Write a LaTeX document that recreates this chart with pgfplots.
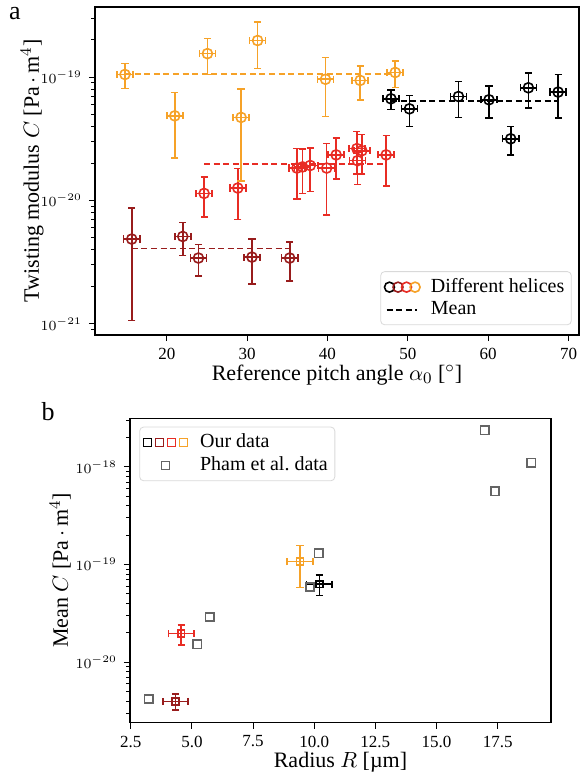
\documentclass[border=0pt]{standalone}
\usepackage{pgfplots}
\pgfplotsset{compat=1.18}
\usepackage{fontspec}
\setmainfont{Liberation Serif}

\definecolor{cdred}{RGB}{152,28,28}
\definecolor{cred}{RGB}{232,44,36}
\definecolor{corange}{RGB}{246,162,40}
\definecolor{cgray}{RGB}{100,100,100}

% panel a: pitch angle, C, x error, y error
\pgfplotstableread{
x y ex ey
47.9 6.67e-20 1.0 1.2e-20
50.2 5.53e-20 1.0 1.55e-20
56.3 6.96e-20 1.0 2.27e-20
60.1 6.55e-20 1.0 1.9e-20
62.8 3.16e-20 1.0 0.82e-20
65.0 8.19e-20 1.0 2.6e-20
68.7 7.56e-20 1.0 2.9e-20
}\blackA
\pgfplotstableread{
x y ex ey
15.64 4.86e-21 1.0 3.8e-21
21.99 5.1e-21 1.0 1.52e-21
23.94 3.41e-21 1.0 0.98e-21
30.6 3.47e-21 1.0 1.38e-21
35.3 3.41e-21 1.0 1.19e-21
}\dredA
\pgfplotstableread{
x y ex ey
24.65 1.14e-20 1.0 4.1e-21
28.84 1.26e-20 1.0 5.6e-21
36.2 1.83e-20 1.0 8.0e-21
36.9 1.87e-20 1.0 7.3e-21
37.85 1.92e-20 1.0 7.4e-21
39.9 1.83e-20 1.0 1.07e-20
41.08 2.34e-20 1.0 8.5e-21
43.66 2.63e-20 1.0 1.0e-20
44.28 2.53e-20 1.0 9.0e-21
43.74 2.1e-20 1.0 7.5e-21
47.3 2.34e-20 1.0 1.03e-20
}\redA
\pgfplotstableread{
x y ex ey
14.8 1.05e-19 1.0 2.4e-20
25.06 1.55e-19 1.0 5.0e-20
31.3 1.98e-19 1.0 8.1e-20
21.0 4.85e-20 1.0 2.65e-20
29.25 4.71e-20 1.0 3.27e-20
39.75 9.6e-20 1.0 4.8e-20
44.07 9.4e-20 1.0 2.87e-20
48.43 1.09e-19 1.0 2.67e-20
}\orangeA

\tikzset{meanline/.style={line width=0.8pt, dash pattern=on 3pt off 1.8pt}}
\pgfplotsset{
  errpts/.style 2 args={only marks, mark=#1, mark size=#2, line width=0.8pt,
    error bars/.cd, x dir=both, x explicit, y dir=both, y explicit,
    error bar style={line width=0.8pt, solid},
    error mark options={rotate=90, line width=0.8pt, mark size=1.8pt, solid}},
  helixleg/.style={legend image code/.code={
    \draw[black, line width=0.8pt] (0.08cm,0cm) circle (2.5pt);
    \draw[cdred, line width=0.8pt] (0.23cm,0cm) circle (2.5pt);
    \draw[cred, line width=0.8pt] (0.38cm,0cm) circle (2.5pt);
    \draw[corange, line width=0.8pt] (0.53cm,0cm) circle (2.5pt);}},
  meanleg/.style={legend image code/.code={
    \draw[black, sharp corners, meanline] (0.03cm,0cm) -- (0.56cm,0cm);}},
  ourleg/.style={legend image code/.code={
    \draw[black, sharp corners, line width=0.8pt] (0cm,-2pt) rectangle ++(4pt,4pt);
    \draw[cdred, sharp corners, line width=0.8pt] (0.21cm,-2pt) rectangle ++(4pt,4pt);
    \draw[cred, sharp corners, line width=0.8pt] (0.42cm,-2pt) rectangle ++(4pt,4pt);
    \draw[corange, sharp corners, line width=0.8pt] (0.63cm,-2pt) rectangle ++(4pt,4pt);}},
  phamleg/.style={legend image code/.code={
    \draw[draw=none] (0cm,0cm) -- (0.77cm,0cm);
    \draw[cgray, sharp corners, line width=0.8pt] (0.315cm,-2pt) rectangle ++(4pt,4pt);}},
}

\begin{document}
\begin{tikzpicture}
\useasboundingbox (0,0) rectangle (293pt,388pt);

\begin{axis}[
  scale only axis, ymode=log, axis line style={line width=0.6pt},
  tick align=outside, xtick pos=left, ytick pos=left,
  major tick length=3pt, minor tick length=1.8pt,
  tick style={black, line width=0.5pt},
  xticklabel style={font=\fontsize{8.5}{10}\selectfont, /pgf/number format/assume math mode=true},
  yticklabel style={font=\fontsize{7.5}{9}\selectfont},
  label style={font=\fontsize{11}{13}\selectfont},
  clip=false,
  at={(47.5pt,220.5pt)}, anchor=south west, width=242pt, height=164pt,
  xmin=11.07, xmax=71.3, ymin=8.1e-22, ymax=3.7e-19,
  xtick={20,30,...,70},
  xlabel={Reference pitch angle $\alpha_0$ [$^\circ$]},
  ylabel={Twisting modulus $C$ [Pa$\,\cdot\,$m$^4$]},
  xlabel style={at={(axis description cs:0.5,-0.122)}, anchor=center},
  ylabel style={at={(axis description cs:-0.13,0.5)}, anchor=center},
  legend style={at={(0.985,0.03)}, anchor=south east, draw=black!15,
    rounded corners=2pt, font=\fontsize{10}{11.5}\selectfont,
    inner sep=1.5pt, row sep=-1pt,
    /tikz/every odd column/.append style={column sep=3pt}},
  legend cell align=left,
]
\addplot[forget plot, black, errpts={o}{2.5pt}] table[x=x, y=y, x error=ex, y error=ey]{\blackA};
\addplot[forget plot, black, meanline] coordinates {(47.9,6.43e-20) (68.7,6.43e-20)};
\addplot[forget plot, cdred, errpts={o}{2.5pt}] table[x=x, y=y, x error=ex, y error=ey]{\dredA};
\addplot[forget plot, cdred, meanline] coordinates {(15.64,4.06e-21) (35.3,4.06e-21)};
\addplot[forget plot, cred, errpts={o}{2.5pt}] table[x=x, y=y, x error=ex, y error=ey]{\redA};
\addplot[forget plot, cred, meanline] coordinates {(24.65,1.97e-20) (47.3,1.97e-20)};
\addplot[forget plot, corange, errpts={o}{2.5pt}] table[x=x, y=y, x error=ex, y error=ey]{\orangeA};
\addplot[forget plot, corange, meanline] coordinates {(14.8,1.06e-19) (48.43,1.06e-19)};

\addlegendimage{helixleg}
\addlegendentry{Different helices}
\addlegendimage{meanleg}
\addlegendentry{Mean}
\end{axis}

\begin{axis}[
  scale only axis, ymode=log, axis line style={line width=0.6pt},
  tick align=outside, xtick pos=left, ytick pos=left,
  major tick length=3pt, minor tick length=1.8pt,
  tick style={black, line width=0.5pt},
  xticklabel style={font=\fontsize{8.5}{10}\selectfont, /pgf/number format/.cd, assume math mode=true, fixed, fixed zerofill, precision=1},
  yticklabel style={font=\fontsize{7.5}{9}\selectfont},
  label style={font=\fontsize{11}{13}\selectfont},
  clip=false,
  at={(65pt,26.65pt)}, anchor=south west, width=210.5pt, height=152.3pt,
  xmin=2.47, xmax=19.68, ymin=2.4e-21, ymax=3.16e-18,
  xtick={2.5,5,...,17.5},
  xlabel={Radius $R$ [µm]},
  ylabel={Mean $C$ [Pa$\,\cdot\,$m$^4$]},
  xlabel style={at={(axis description cs:0.5,-0.131)}, anchor=center},
  ylabel style={at={(axis description cs:-0.166,0.5)}, anchor=center},
  legend style={at={(0.022,0.972)}, anchor=north west, draw=black!15,
    rounded corners=2pt, font=\fontsize{10}{11.5}\selectfont,
    inner sep=1.5pt, row sep=-1pt,
    /tikz/every odd column/.append style={column sep=4pt}},
  legend cell align=left,
]
\addplot[forget plot, cgray, only marks, mark=square, mark size=2.1pt, line width=0.8pt] coordinates {
  (3.23,4.2e-21) (5.22,1.52e-20) (5.72,2.9e-20) (10.18,1.31e-19) (9.83,5.9e-20)
  (16.97,2.37e-18) (17.39,5.6e-19) (18.87,1.1e-18)};
\addplot[forget plot, black, errpts={square}{1.7pt}] coordinates {(10.21,6.3e-20) +- (0.52,1.5e-20)};
\addplot[forget plot, cdred, errpts={square}{1.7pt}] coordinates {(4.33,3.97e-21) +- (0.52,0.75e-21)};
\addplot[forget plot, cred, errpts={square}{1.7pt}] coordinates {(4.56,1.96e-20) +- (0.52,0.46e-20)};
\addplot[forget plot, corange, errpts={square}{1.7pt}] coordinates {(9.42,1.07e-19) +- (0.52,0.49e-19)};

\addlegendimage{ourleg}
\addlegendentry{Our data}
\addlegendimage{phamleg}
\addlegendentry{Pham et al.\ data}
\end{axis}

\node[font=\fontsize{13}{15}\selectfont] at (7.5pt,381pt) {a};
\node[font=\fontsize{13}{15}\selectfont] at (24pt,182pt) {b};
\end{tikzpicture}
\end{document}
